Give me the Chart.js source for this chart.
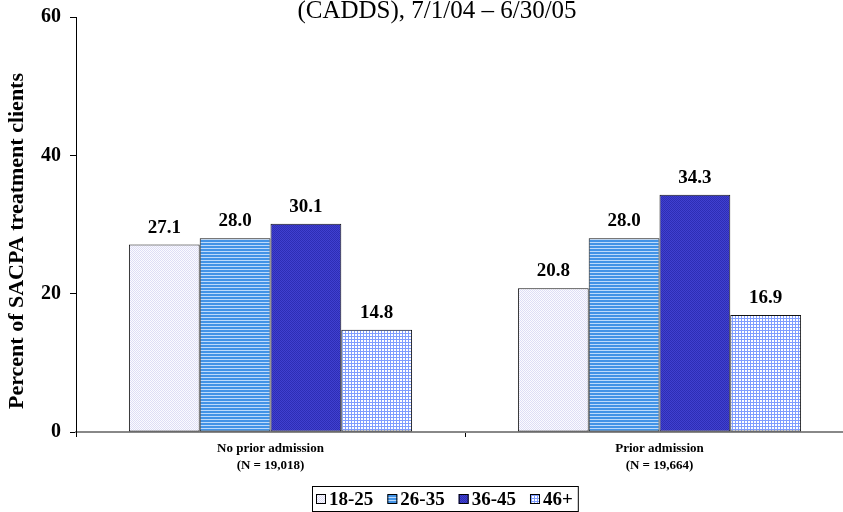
<!DOCTYPE html>
<html>
<head>
<meta charset="utf-8">
<script src="https://cdn.jsdelivr.net/npm/chart.js@4.4.1/dist/chart.umd.min.js"></script>
<style>
  html, body { margin: 0; padding: 0; background: #fff; overflow: hidden; }
  #wrap { position: relative; width: 854px; height: 512px; }
</style>
</head>
<body>
<div id="wrap"><canvas id="c"></canvas></div>
<script>
// ---- Data ----
const categories = [["No prior admission", "(N = 19,018)"], ["Prior admission", "(N = 19,664)"]];
const seriesNames = ["18-25", "26-35", "36-45", "46+"];
const age18to25 = [27.1, 20.8];
const age26to35 = [28.0, 28.0];
const age36to45 = [30.1, 34.3];
const age46plus = [14.8, 16.9];
const yTicks = [0, 20, 40, 60];
const titleText = "(CADDS), 7/1/04 \u2013 6/30/05";
const yAxisTitle = "Percent of SACPA treatment clients";

const SERIF = '"Liberation Serif", "Times New Roman", serif';

// ---- Patterns ----
function makePattern(w, h, draw) {
  const c = document.createElement('canvas');
  c.width = w; c.height = h;
  const g = c.getContext('2d');
  draw(g);
  return g.createPattern(c, 'repeat');
}
const pat1 = makePattern(2, 2, g => {
  g.fillStyle = '#fbfbff'; g.fillRect(0, 0, 2, 2);
  g.fillStyle = '#dedef5'; g.fillRect(0, 0, 1, 1); g.fillRect(1, 1, 1, 1);
});
const pat2 = makePattern(4, 3, g => {
  g.fillStyle = '#4293e6'; g.fillRect(0, 0, 4, 3);
  g.fillStyle = '#bcdafb'; g.fillRect(0, 2, 4, 1);
});
const pat3 = makePattern(2, 2, g => {
  g.fillStyle = '#4040d0'; g.fillRect(0, 0, 2, 2);
  g.fillStyle = '#2d2db4'; g.fillRect(0, 0, 1, 1); g.fillRect(1, 1, 1, 1);
});
const pat4 = makePattern(3, 3, g => {
  g.fillStyle = '#ffffff'; g.fillRect(0, 0, 3, 3);
  g.fillStyle = '#7f9dff'; g.fillRect(0, 0, 3, 1); g.fillRect(0, 0, 1, 3);
});
const patterns = [pat1, pat2, pat3, pat4];
const seriesData = [age18to25, age26to35, age36to45, age46plus];

// ---- Plugins ----
const textPlugin = {
  id: 'texts',
  afterDraw(chart) {
    const ctx = chart.ctx;
    ctx.save();
    ctx.font = '25px ' + SERIF;
    ctx.fillStyle = '#000';
    ctx.textAlign = 'center';
    ctx.textBaseline = 'alphabetic';
    ctx.fillText(titleText, 437, 18);
    // y-axis title
    ctx.translate(17, 241);
    ctx.rotate(-Math.PI / 2);
    ctx.font = 'bold 22px ' + SERIF;
    ctx.textBaseline = 'middle';
    ctx.fillText(yAxisTitle, 0, 0);
    ctx.restore();
  }
};

const valueLabels = {
  id: 'valueLabels',
  afterDatasetsDraw(chart) {
    const ctx = chart.ctx;
    ctx.save();
    ctx.font = 'bold 19px ' + SERIF;
    ctx.fillStyle = '#000';
    ctx.textAlign = 'center';
    ctx.textBaseline = 'alphabetic';
    chart.data.datasets.forEach((ds, i) => {
      const meta = chart.getDatasetMeta(i);
      meta.data.forEach((bar, j) => {
        ctx.fillText(ds.data[j].toFixed(1), bar.x, bar.y - 12);
      });
    });
    ctx.restore();
  }
};

const boxLegend = {
  id: 'boxLegend',
  afterDraw(chart) {
    const ctx = chart.ctx;
    ctx.save();
    ctx.font = 'bold 19px ' + SERIF;
    const sw = 10, gapAfterSwatch = 3, gapItems = 14, padL = 4, padR = 5;
    const items = chart.data.datasets.map(ds => ({ label: ds.label, fill: ds.backgroundColor, w: ctx.measureText(ds.label).width }));
    let total = padL + padR;
    items.forEach((it, i) => { total += sw + gapAfterSwatch + it.w + (i < items.length - 1 ? gapItems : 0); });
    const cx = 445;
    const left = Math.round(cx - total / 2);
    const top = 486, bottom = 511;
    ctx.strokeStyle = '#000';
    ctx.lineWidth = 1;
    ctx.strokeRect(left + 0.5, top + 0.5, total, bottom - top);
    let x = left + padL;
    const cy = 499;
    ctx.textBaseline = 'middle';
    ctx.textAlign = 'left';
    items.forEach((it, i) => {
      ctx.fillStyle = it.fill;
      ctx.fillRect(x, cy - sw / 2, sw, sw);
      ctx.strokeStyle = '#000';
      ctx.strokeRect(x + 0.5, cy - sw / 2 + 0.5, sw - 1, sw - 1);
      x += sw + gapAfterSwatch;
      ctx.fillStyle = '#000';
      ctx.fillText(it.label, x, cy + 1);
      x += it.w + gapItems;
    });
    ctx.restore();
  }
};

// ---- Chart ----
new Chart(document.getElementById('c'), {
  type: 'bar',
  data: {
    labels: categories,
    datasets: seriesNames.map((name, i) => ({
      label: name,
      data: seriesData[i],
      backgroundColor: patterns[i],
      borderColor: '#111',
      borderWidth: 1,
      borderSkipped: false,
      categoryPercentage: 0.728,
      barPercentage: 1.0
    }))
  },
  options: {
    responsive: true,
    maintainAspectRatio: false,
    animation: false,
    events: [],
    layout: { padding: { top: 17, right: 0, left: 0, bottom: 0 } },
    plugins: {
      legend: { display: false },
      title: { display: false },
      tooltip: { enabled: false }
    },
    scales: {
      x: {
        afterFit(scale) { scale.height = 80; },
        grid: { display: true, drawOnChartArea: false, drawTicks: true, tickLength: 5, color: '#000', offset: true },
        border: { display: true, color: '#888', width: 2 },
        ticks: {
          color: '#000',
          font: { family: SERIF, size: 13, weight: 'bold', lineHeight: 1.25 },
          padding: 4,
          maxRotation: 0
        }
      },
      y: {
        min: 0, max: 60,
        afterFit(scale) { scale.width = 76; },
        afterBuildTicks(scale) { scale.ticks = yTicks.map(v => ({ value: v })); },
        grid: { display: true, drawOnChartArea: false, drawTicks: true, tickLength: 6, color: '#000' },
        border: { display: true, color: '#000', width: 1 },
        ticks: {
          color: '#000',
          font: { family: SERIF, size: 20, weight: 'bold', lineHeight: 0.8 },
          padding: 9
        }
      }
    }
  },
  plugins: [textPlugin, valueLabels, boxLegend]
});
</script>
</body>
</html>
